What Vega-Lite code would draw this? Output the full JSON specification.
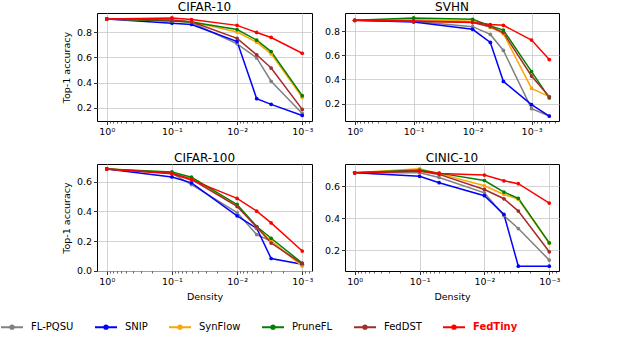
{
  "$schema": "https://vega.github.io/schema/vega-lite/v6.json",
  "padding": {"top": 0, "left": 0, "right": 0, "bottom": 0},
  "background": "white",
  "datasets": {
    "acc": [
      {"dataset": "CIFAR-10", "method": "FL-PQSU", "density": 1, "accuracy": 0.904},
      {"dataset": "CIFAR-10", "method": "FL-PQSU", "density": 0.1, "accuracy": 0.89},
      {"dataset": "CIFAR-10", "method": "FL-PQSU", "density": 0.05, "accuracy": 0.875},
      {"dataset": "CIFAR-10", "method": "FL-PQSU", "density": 0.01, "accuracy": 0.707},
      {"dataset": "CIFAR-10", "method": "FL-PQSU", "density": 0.005, "accuracy": 0.595},
      {"dataset": "CIFAR-10", "method": "FL-PQSU", "density": 0.003, "accuracy": 0.41},
      {"dataset": "CIFAR-10", "method": "FL-PQSU", "density": 0.001, "accuracy": 0.155},
      {"dataset": "CIFAR-10", "method": "SNIP", "density": 1, "accuracy": 0.904},
      {"dataset": "CIFAR-10", "method": "SNIP", "density": 0.1, "accuracy": 0.87},
      {"dataset": "CIFAR-10", "method": "SNIP", "density": 0.05, "accuracy": 0.86},
      {"dataset": "CIFAR-10", "method": "SNIP", "density": 0.01, "accuracy": 0.725},
      {"dataset": "CIFAR-10", "method": "SNIP", "density": 0.005, "accuracy": 0.272},
      {"dataset": "CIFAR-10", "method": "SNIP", "density": 0.003, "accuracy": 0.227},
      {"dataset": "CIFAR-10", "method": "SNIP", "density": 0.001, "accuracy": 0.139},
      {"dataset": "CIFAR-10", "method": "SynFlow", "density": 1, "accuracy": 0.904},
      {"dataset": "CIFAR-10", "method": "SynFlow", "density": 0.1, "accuracy": 0.89},
      {"dataset": "CIFAR-10", "method": "SynFlow", "density": 0.05, "accuracy": 0.882},
      {"dataset": "CIFAR-10", "method": "SynFlow", "density": 0.01, "accuracy": 0.8},
      {"dataset": "CIFAR-10", "method": "SynFlow", "density": 0.005, "accuracy": 0.72},
      {"dataset": "CIFAR-10", "method": "SynFlow", "density": 0.003, "accuracy": 0.627},
      {"dataset": "CIFAR-10", "method": "SynFlow", "density": 0.001, "accuracy": 0.283},
      {"dataset": "CIFAR-10", "method": "PruneFL", "density": 1, "accuracy": 0.904},
      {"dataset": "CIFAR-10", "method": "PruneFL", "density": 0.1, "accuracy": 0.888},
      {"dataset": "CIFAR-10", "method": "PruneFL", "density": 0.05, "accuracy": 0.88},
      {"dataset": "CIFAR-10", "method": "PruneFL", "density": 0.01, "accuracy": 0.82},
      {"dataset": "CIFAR-10", "method": "PruneFL", "density": 0.005, "accuracy": 0.736},
      {"dataset": "CIFAR-10", "method": "PruneFL", "density": 0.003, "accuracy": 0.645},
      {"dataset": "CIFAR-10", "method": "PruneFL", "density": 0.001, "accuracy": 0.296},
      {"dataset": "CIFAR-10", "method": "FedDST", "density": 1, "accuracy": 0.904},
      {"dataset": "CIFAR-10", "method": "FedDST", "density": 0.1, "accuracy": 0.895},
      {"dataset": "CIFAR-10", "method": "FedDST", "density": 0.05, "accuracy": 0.882},
      {"dataset": "CIFAR-10", "method": "FedDST", "density": 0.01, "accuracy": 0.75},
      {"dataset": "CIFAR-10", "method": "FedDST", "density": 0.005, "accuracy": 0.62},
      {"dataset": "CIFAR-10", "method": "FedDST", "density": 0.003, "accuracy": 0.515},
      {"dataset": "CIFAR-10", "method": "FedDST", "density": 0.001, "accuracy": 0.187},
      {"dataset": "CIFAR-10", "method": "FedTiny", "density": 1, "accuracy": 0.904},
      {"dataset": "CIFAR-10", "method": "FedTiny", "density": 0.1, "accuracy": 0.912},
      {"dataset": "CIFAR-10", "method": "FedTiny", "density": 0.05, "accuracy": 0.899},
      {"dataset": "CIFAR-10", "method": "FedTiny", "density": 0.01, "accuracy": 0.853},
      {"dataset": "CIFAR-10", "method": "FedTiny", "density": 0.005, "accuracy": 0.797},
      {"dataset": "CIFAR-10", "method": "FedTiny", "density": 0.003, "accuracy": 0.757},
      {"dataset": "CIFAR-10", "method": "FedTiny", "density": 0.001, "accuracy": 0.632},

      {"dataset": "SVHN", "method": "FL-PQSU", "density": 1, "accuracy": 0.889},
      {"dataset": "SVHN", "method": "FL-PQSU", "density": 0.1, "accuracy": 0.88},
      {"dataset": "SVHN", "method": "FL-PQSU", "density": 0.01, "accuracy": 0.836},
      {"dataset": "SVHN", "method": "FL-PQSU", "density": 0.005, "accuracy": 0.772},
      {"dataset": "SVHN", "method": "FL-PQSU", "density": 0.003, "accuracy": 0.639},
      {"dataset": "SVHN", "method": "FL-PQSU", "density": 0.001, "accuracy": 0.158},
      {"dataset": "SVHN", "method": "FL-PQSU", "density": 0.0005, "accuracy": 0.097},
      {"dataset": "SVHN", "method": "SNIP", "density": 1, "accuracy": 0.889},
      {"dataset": "SVHN", "method": "SNIP", "density": 0.1, "accuracy": 0.875},
      {"dataset": "SVHN", "method": "SNIP", "density": 0.01, "accuracy": 0.814},
      {"dataset": "SVHN", "method": "SNIP", "density": 0.005, "accuracy": 0.706},
      {"dataset": "SVHN", "method": "SNIP", "density": 0.003, "accuracy": 0.383},
      {"dataset": "SVHN", "method": "SNIP", "density": 0.001, "accuracy": 0.192},
      {"dataset": "SVHN", "method": "SNIP", "density": 0.0005, "accuracy": 0.097},
      {"dataset": "SVHN", "method": "SynFlow", "density": 1, "accuracy": 0.889},
      {"dataset": "SVHN", "method": "SynFlow", "density": 0.1, "accuracy": 0.895},
      {"dataset": "SVHN", "method": "SynFlow", "density": 0.01, "accuracy": 0.88},
      {"dataset": "SVHN", "method": "SynFlow", "density": 0.005, "accuracy": 0.83},
      {"dataset": "SVHN", "method": "SynFlow", "density": 0.003, "accuracy": 0.778},
      {"dataset": "SVHN", "method": "SynFlow", "density": 0.001, "accuracy": 0.325},
      {"dataset": "SVHN", "method": "SynFlow", "density": 0.0005, "accuracy": 0.258},
      {"dataset": "SVHN", "method": "PruneFL", "density": 1, "accuracy": 0.889},
      {"dataset": "SVHN", "method": "PruneFL", "density": 0.1, "accuracy": 0.908},
      {"dataset": "SVHN", "method": "PruneFL", "density": 0.01, "accuracy": 0.897},
      {"dataset": "SVHN", "method": "PruneFL", "density": 0.005, "accuracy": 0.842},
      {"dataset": "SVHN", "method": "PruneFL", "density": 0.003, "accuracy": 0.808},
      {"dataset": "SVHN", "method": "PruneFL", "density": 0.001, "accuracy": 0.464},
      {"dataset": "SVHN", "method": "PruneFL", "density": 0.0005, "accuracy": 0.247},
      {"dataset": "SVHN", "method": "FedDST", "density": 1, "accuracy": 0.889},
      {"dataset": "SVHN", "method": "FedDST", "density": 0.1, "accuracy": 0.88},
      {"dataset": "SVHN", "method": "FedDST", "density": 0.01, "accuracy": 0.87},
      {"dataset": "SVHN", "method": "FedDST", "density": 0.005, "accuracy": 0.836},
      {"dataset": "SVHN", "method": "FedDST", "density": 0.003, "accuracy": 0.786},
      {"dataset": "SVHN", "method": "FedDST", "density": 0.001, "accuracy": 0.428},
      {"dataset": "SVHN", "method": "FedDST", "density": 0.0005, "accuracy": 0.256},
      {"dataset": "SVHN", "method": "FedTiny", "density": 1, "accuracy": 0.889},
      {"dataset": "SVHN", "method": "FedTiny", "density": 0.1, "accuracy": 0.883},
      {"dataset": "SVHN", "method": "FedTiny", "density": 0.01, "accuracy": 0.872},
      {"dataset": "SVHN", "method": "FedTiny", "density": 0.005, "accuracy": 0.853},
      {"dataset": "SVHN", "method": "FedTiny", "density": 0.003, "accuracy": 0.847},
      {"dataset": "SVHN", "method": "FedTiny", "density": 0.001, "accuracy": 0.725},
      {"dataset": "SVHN", "method": "FedTiny", "density": 0.0005, "accuracy": 0.564},

      {"dataset": "CIFAR-100", "method": "FL-PQSU", "density": 1, "accuracy": 0.685},
      {"dataset": "CIFAR-100", "method": "FL-PQSU", "density": 0.1, "accuracy": 0.655},
      {"dataset": "CIFAR-100", "method": "FL-PQSU", "density": 0.05, "accuracy": 0.58},
      {"dataset": "CIFAR-100", "method": "FL-PQSU", "density": 0.01, "accuracy": 0.392},
      {"dataset": "CIFAR-100", "method": "FL-PQSU", "density": 0.005, "accuracy": 0.244},
      {"dataset": "CIFAR-100", "method": "FL-PQSU", "density": 0.003, "accuracy": 0.2},
      {"dataset": "CIFAR-100", "method": "FL-PQSU", "density": 0.001, "accuracy": 0.036},
      {"dataset": "CIFAR-100", "method": "SNIP", "density": 1, "accuracy": 0.685},
      {"dataset": "CIFAR-100", "method": "SNIP", "density": 0.1, "accuracy": 0.631},
      {"dataset": "CIFAR-100", "method": "SNIP", "density": 0.05, "accuracy": 0.591},
      {"dataset": "CIFAR-100", "method": "SNIP", "density": 0.01, "accuracy": 0.37},
      {"dataset": "CIFAR-100", "method": "SNIP", "density": 0.005, "accuracy": 0.286},
      {"dataset": "CIFAR-100", "method": "SNIP", "density": 0.003, "accuracy": 0.083},
      {"dataset": "CIFAR-100", "method": "SNIP", "density": 0.001, "accuracy": 0.045},
      {"dataset": "CIFAR-100", "method": "SynFlow", "density": 1, "accuracy": 0.685},
      {"dataset": "CIFAR-100", "method": "SynFlow", "density": 0.1, "accuracy": 0.66},
      {"dataset": "CIFAR-100", "method": "SynFlow", "density": 0.05, "accuracy": 0.62},
      {"dataset": "CIFAR-100", "method": "SynFlow", "density": 0.01, "accuracy": 0.44},
      {"dataset": "CIFAR-100", "method": "SynFlow", "density": 0.005, "accuracy": 0.29},
      {"dataset": "CIFAR-100", "method": "SynFlow", "density": 0.003, "accuracy": 0.2},
      {"dataset": "CIFAR-100", "method": "SynFlow", "density": 0.001, "accuracy": 0.032},
      {"dataset": "CIFAR-100", "method": "PruneFL", "density": 1, "accuracy": 0.685},
      {"dataset": "CIFAR-100", "method": "PruneFL", "density": 0.1, "accuracy": 0.665},
      {"dataset": "CIFAR-100", "method": "PruneFL", "density": 0.05, "accuracy": 0.629},
      {"dataset": "CIFAR-100", "method": "PruneFL", "density": 0.01, "accuracy": 0.446},
      {"dataset": "CIFAR-100", "method": "PruneFL", "density": 0.005, "accuracy": 0.298},
      {"dataset": "CIFAR-100", "method": "PruneFL", "density": 0.003, "accuracy": 0.219},
      {"dataset": "CIFAR-100", "method": "PruneFL", "density": 0.001, "accuracy": 0.052},
      {"dataset": "CIFAR-100", "method": "FedDST", "density": 1, "accuracy": 0.685},
      {"dataset": "CIFAR-100", "method": "FedDST", "density": 0.1, "accuracy": 0.658},
      {"dataset": "CIFAR-100", "method": "FedDST", "density": 0.05, "accuracy": 0.615},
      {"dataset": "CIFAR-100", "method": "FedDST", "density": 0.01, "accuracy": 0.433},
      {"dataset": "CIFAR-100", "method": "FedDST", "density": 0.005, "accuracy": 0.295},
      {"dataset": "CIFAR-100", "method": "FedDST", "density": 0.003, "accuracy": 0.187},
      {"dataset": "CIFAR-100", "method": "FedDST", "density": 0.001, "accuracy": 0.047},
      {"dataset": "CIFAR-100", "method": "FedTiny", "density": 1, "accuracy": 0.685},
      {"dataset": "CIFAR-100", "method": "FedTiny", "density": 0.1, "accuracy": 0.652},
      {"dataset": "CIFAR-100", "method": "FedTiny", "density": 0.05, "accuracy": 0.611},
      {"dataset": "CIFAR-100", "method": "FedTiny", "density": 0.01, "accuracy": 0.487},
      {"dataset": "CIFAR-100", "method": "FedTiny", "density": 0.005, "accuracy": 0.401},
      {"dataset": "CIFAR-100", "method": "FedTiny", "density": 0.003, "accuracy": 0.322},
      {"dataset": "CIFAR-100", "method": "FedTiny", "density": 0.001, "accuracy": 0.133},

      {"dataset": "CINIC-10", "method": "FL-PQSU", "density": 1, "accuracy": 0.685},
      {"dataset": "CINIC-10", "method": "FL-PQSU", "density": 0.1, "accuracy": 0.685},
      {"dataset": "CINIC-10", "method": "FL-PQSU", "density": 0.05, "accuracy": 0.656},
      {"dataset": "CINIC-10", "method": "FL-PQSU", "density": 0.01, "accuracy": 0.56},
      {"dataset": "CINIC-10", "method": "FL-PQSU", "density": 0.005, "accuracy": 0.417},
      {"dataset": "CINIC-10", "method": "FL-PQSU", "density": 0.003, "accuracy": 0.337},
      {"dataset": "CINIC-10", "method": "FL-PQSU", "density": 0.001, "accuracy": 0.14},
      {"dataset": "CINIC-10", "method": "SNIP", "density": 1, "accuracy": 0.685},
      {"dataset": "CINIC-10", "method": "SNIP", "density": 0.1, "accuracy": 0.663},
      {"dataset": "CINIC-10", "method": "SNIP", "density": 0.05, "accuracy": 0.623},
      {"dataset": "CINIC-10", "method": "SNIP", "density": 0.01, "accuracy": 0.542},
      {"dataset": "CINIC-10", "method": "SNIP", "density": 0.005, "accuracy": 0.425},
      {"dataset": "CINIC-10", "method": "SNIP", "density": 0.003, "accuracy": 0.102},
      {"dataset": "CINIC-10", "method": "SNIP", "density": 0.001, "accuracy": 0.102},
      {"dataset": "CINIC-10", "method": "SynFlow", "density": 1, "accuracy": 0.685},
      {"dataset": "CINIC-10", "method": "SynFlow", "density": 0.1, "accuracy": 0.71},
      {"dataset": "CINIC-10", "method": "SynFlow", "density": 0.05, "accuracy": 0.68},
      {"dataset": "CINIC-10", "method": "SynFlow", "density": 0.01, "accuracy": 0.604},
      {"dataset": "CINIC-10", "method": "SynFlow", "density": 0.005, "accuracy": 0.55},
      {"dataset": "CINIC-10", "method": "SynFlow", "density": 0.003, "accuracy": 0.52},
      {"dataset": "CINIC-10", "method": "SynFlow", "density": 0.001, "accuracy": 0.245},
      {"dataset": "CINIC-10", "method": "PruneFL", "density": 1, "accuracy": 0.685},
      {"dataset": "CINIC-10", "method": "PruneFL", "density": 0.1, "accuracy": 0.702},
      {"dataset": "CINIC-10", "method": "PruneFL", "density": 0.05, "accuracy": 0.683},
      {"dataset": "CINIC-10", "method": "PruneFL", "density": 0.01, "accuracy": 0.637},
      {"dataset": "CINIC-10", "method": "PruneFL", "density": 0.005, "accuracy": 0.565},
      {"dataset": "CINIC-10", "method": "PruneFL", "density": 0.003, "accuracy": 0.525},
      {"dataset": "CINIC-10", "method": "PruneFL", "density": 0.001, "accuracy": 0.248},
      {"dataset": "CINIC-10", "method": "FedDST", "density": 1, "accuracy": 0.685},
      {"dataset": "CINIC-10", "method": "FedDST", "density": 0.1, "accuracy": 0.696},
      {"dataset": "CINIC-10", "method": "FedDST", "density": 0.05, "accuracy": 0.675},
      {"dataset": "CINIC-10", "method": "FedDST", "density": 0.01, "accuracy": 0.581},
      {"dataset": "CINIC-10", "method": "FedDST", "density": 0.005, "accuracy": 0.523},
      {"dataset": "CINIC-10", "method": "FedDST", "density": 0.003, "accuracy": 0.446},
      {"dataset": "CINIC-10", "method": "FedDST", "density": 0.001, "accuracy": 0.192},
      {"dataset": "CINIC-10", "method": "FedTiny", "density": 1, "accuracy": 0.685},
      {"dataset": "CINIC-10", "method": "FedTiny", "density": 0.1, "accuracy": 0.696},
      {"dataset": "CINIC-10", "method": "FedTiny", "density": 0.05, "accuracy": 0.681},
      {"dataset": "CINIC-10", "method": "FedTiny", "density": 0.01, "accuracy": 0.671},
      {"dataset": "CINIC-10", "method": "FedTiny", "density": 0.005, "accuracy": 0.635},
      {"dataset": "CINIC-10", "method": "FedTiny", "density": 0.003, "accuracy": 0.617},
      {"dataset": "CINIC-10", "method": "FedTiny", "density": 0.001, "accuracy": 0.496}
    ]
  },
  "bounds": "flush",
  "columns": 2,
  "spacing": {"row": 43, "column": 33},
  "resolve": {"scale": {"x": "independent", "y": "independent"}},
  "concat": [
    {
      "title": "CIFAR-10",
      "width": 215, "height": 108,
      "data": {"name": "acc"},
      "transform": [{"filter": "datum.dataset === 'CIFAR-10'"}],
      "mark": {"type": "line", "strokeWidth": 1.5, "point": {"filled": true, "size": 14}},
      "encoding": {
        "x": {"field": "density", "type": "quantitative",
          "scale": {"type": "log", "domain": [0.000708, 1.413], "reverse": true, "nice": false},
          "axis": {"title": null, "labelOverlap": false, "labelFlush": false,
            "values": [1, 0.9, 0.8, 0.7, 0.6, 0.5, 0.4, 0.3, 0.2, 0.1, 0.09, 0.08, 0.07, 0.06, 0.05, 0.04, 0.03, 0.02, 0.01, 0.009, 0.008, 0.007, 0.006, 0.005, 0.004, 0.003, 0.002, 0.001, 0.0009, 0.0008],
            "labelExpr": "datum.value === 1 ? '10⁰' : datum.value === 0.1 ? '10⁻¹' : datum.value === 0.01 ? '10⁻²' : datum.value === 0.001 ? '10⁻³' : ''",
            "gridOpacity": {"condition": {"test": "datum.value === 1 || datum.value === 0.1 || datum.value === 0.01 || datum.value === 0.001", "value": 1}, "value": 0},
            "tickSize": {"condition": {"test": "datum.value === 1 || datum.value === 0.1 || datum.value === 0.01 || datum.value === 0.001", "value": 3.5}, "value": 2},
            "tickWidth": {"condition": {"test": "datum.value === 1 || datum.value === 0.1 || datum.value === 0.01 || datum.value === 0.001", "value": 0.8}, "value": 0.6}}},
        "y": {"field": "accuracy", "type": "quantitative",
          "scale": {"domain": [0.095, 0.951], "nice": false, "zero": false},
          "axis": {"title": "Top-1 accuracy", "values": [0.2, 0.4, 0.6, 0.8], "format": ".1f"}},
        "color": {"field": "method", "type": "nominal",
          "scale": {"domain": ["FL-PQSU", "SNIP", "SynFlow", "PruneFL", "FedDST", "FedTiny"], "range": ["#808080", "#0000ff", "#ffa500", "#008000", "#a52a2a", "#ff0000"]},
          "legend": {"orient": "none", "legendX": -97, "legendY": 302, "direction": "horizontal", "columns": 6, "title": null,
            "symbolType": "M-1,0H1M-0.15,0A0.15,0.15,0,1,0,0.15,0A0.15,0.15,0,1,0,-0.15,0",
            "symbolSize": 484, "symbolStrokeWidth": 2, "labelFontSize": 10, "labelOffset": 7, "columnPadding": 17, "labelFont": "DejaVu Sans", "labelColor": "black",
            "encode": {"labels": {"update": {"fill": {"signal": "datum.label === 'FedTiny' ? '#ff0000' : '#000000'"}, "fontWeight": {"signal": "datum.label === 'FedTiny' ? 'bold' : 'normal'"}}}}}}
      }
    },
    {
      "title": "SVHN",
      "width": 214, "height": 108,
      "data": {"name": "acc"},
      "transform": [{"filter": "datum.dataset === 'SVHN'"}],
      "mark": {"type": "line", "strokeWidth": 1.5, "point": {"filled": true, "size": 14}},
      "encoding": {
        "x": {"field": "density", "type": "quantitative",
          "scale": {"type": "log", "domain": [0.000342, 1.462], "reverse": true, "nice": false},
          "axis": {"title": null, "labelOverlap": false, "labelFlush": false,
            "values": [1, 0.9, 0.8, 0.7, 0.6, 0.5, 0.4, 0.3, 0.2, 0.1, 0.09, 0.08, 0.07, 0.06, 0.05, 0.04, 0.03, 0.02, 0.01, 0.009, 0.008, 0.007, 0.006, 0.005, 0.004, 0.003, 0.002, 0.001, 0.0009, 0.0008, 0.0007, 0.0006, 0.0005, 0.0004],
            "labelExpr": "datum.value === 1 ? '10⁰' : datum.value === 0.1 ? '10⁻¹' : datum.value === 0.01 ? '10⁻²' : datum.value === 0.001 ? '10⁻³' : ''",
            "gridOpacity": {"condition": {"test": "datum.value === 1 || datum.value === 0.1 || datum.value === 0.01 || datum.value === 0.001", "value": 1}, "value": 0},
            "tickSize": {"condition": {"test": "datum.value === 1 || datum.value === 0.1 || datum.value === 0.01 || datum.value === 0.001", "value": 3.5}, "value": 2},
            "tickWidth": {"condition": {"test": "datum.value === 1 || datum.value === 0.1 || datum.value === 0.01 || datum.value === 0.001", "value": 0.8}, "value": 0.6}}},
        "y": {"field": "accuracy", "type": "quantitative",
          "scale": {"domain": [0.056, 0.949], "nice": false, "zero": false},
          "axis": {"title": null, "values": [0.2, 0.4, 0.6, 0.8], "format": ".1f"}},
        "color": {"field": "method", "type": "nominal",
          "scale": {"domain": ["FL-PQSU", "SNIP", "SynFlow", "PruneFL", "FedDST", "FedTiny"], "range": ["#808080", "#0000ff", "#ffa500", "#008000", "#a52a2a", "#ff0000"]},
          "legend": {"orient": "none", "legendX": -97, "legendY": 302, "direction": "horizontal", "columns": 6, "title": null,
            "symbolType": "M-1,0H1M-0.15,0A0.15,0.15,0,1,0,0.15,0A0.15,0.15,0,1,0,-0.15,0",
            "symbolSize": 484, "symbolStrokeWidth": 2, "labelFontSize": 10, "labelOffset": 7, "columnPadding": 17, "labelFont": "DejaVu Sans", "labelColor": "black",
            "encode": {"labels": {"update": {"fill": {"signal": "datum.label === 'FedTiny' ? '#ff0000' : '#000000'"}, "fontWeight": {"signal": "datum.label === 'FedTiny' ? 'bold' : 'normal'"}}}}}}
      }
    },
    {
      "title": "CIFAR-100",
      "width": 215, "height": 107,
      "data": {"name": "acc"},
      "transform": [{"filter": "datum.dataset === 'CIFAR-100'"}],
      "mark": {"type": "line", "strokeWidth": 1.5, "point": {"filled": true, "size": 14}},
      "encoding": {
        "x": {"field": "density", "type": "quantitative",
          "scale": {"type": "log", "domain": [0.000708, 1.413], "reverse": true, "nice": false},
          "axis": {"title": "Density", "labelOverlap": false, "labelFlush": false,
            "values": [1, 0.9, 0.8, 0.7, 0.6, 0.5, 0.4, 0.3, 0.2, 0.1, 0.09, 0.08, 0.07, 0.06, 0.05, 0.04, 0.03, 0.02, 0.01, 0.009, 0.008, 0.007, 0.006, 0.005, 0.004, 0.003, 0.002, 0.001, 0.0009, 0.0008],
            "labelExpr": "datum.value === 1 ? '10⁰' : datum.value === 0.1 ? '10⁻¹' : datum.value === 0.01 ? '10⁻²' : datum.value === 0.001 ? '10⁻³' : ''",
            "gridOpacity": {"condition": {"test": "datum.value === 1 || datum.value === 0.1 || datum.value === 0.01 || datum.value === 0.001", "value": 1}, "value": 0},
            "tickSize": {"condition": {"test": "datum.value === 1 || datum.value === 0.1 || datum.value === 0.01 || datum.value === 0.001", "value": 3.5}, "value": 2},
            "tickWidth": {"condition": {"test": "datum.value === 1 || datum.value === 0.1 || datum.value === 0.01 || datum.value === 0.001", "value": 0.8}, "value": 0.6}}},
        "y": {"field": "accuracy", "type": "quantitative",
          "scale": {"domain": [-0.001, 0.718], "nice": false, "zero": false},
          "axis": {"title": "Top-1 accuracy", "values": [0, 0.2, 0.4, 0.6], "format": ".1f"}},
        "color": {"field": "method", "type": "nominal",
          "scale": {"domain": ["FL-PQSU", "SNIP", "SynFlow", "PruneFL", "FedDST", "FedTiny"], "range": ["#808080", "#0000ff", "#ffa500", "#008000", "#a52a2a", "#ff0000"]},
          "legend": {"orient": "none", "legendX": -97, "legendY": 302, "direction": "horizontal", "columns": 6, "title": null,
            "symbolType": "M-1,0H1M-0.15,0A0.15,0.15,0,1,0,0.15,0A0.15,0.15,0,1,0,-0.15,0",
            "symbolSize": 484, "symbolStrokeWidth": 2, "labelFontSize": 10, "labelOffset": 7, "columnPadding": 17, "labelFont": "DejaVu Sans", "labelColor": "black",
            "encode": {"labels": {"update": {"fill": {"signal": "datum.label === 'FedTiny' ? '#ff0000' : '#000000'"}, "fontWeight": {"signal": "datum.label === 'FedTiny' ? 'bold' : 'normal'"}}}}}}
      }
    },
    {
      "title": "CINIC-10",
      "width": 214, "height": 107,
      "data": {"name": "acc"},
      "transform": [{"filter": "datum.dataset === 'CINIC-10'"}],
      "mark": {"type": "line", "strokeWidth": 1.5, "point": {"filled": true, "size": 14}},
      "encoding": {
        "x": {"field": "density", "type": "quantitative",
          "scale": {"type": "log", "domain": [0.000708, 1.413], "reverse": true, "nice": false},
          "axis": {"title": "Density", "labelOverlap": false, "labelFlush": false,
            "values": [1, 0.9, 0.8, 0.7, 0.6, 0.5, 0.4, 0.3, 0.2, 0.1, 0.09, 0.08, 0.07, 0.06, 0.05, 0.04, 0.03, 0.02, 0.01, 0.009, 0.008, 0.007, 0.006, 0.005, 0.004, 0.003, 0.002, 0.001, 0.0009, 0.0008],
            "labelExpr": "datum.value === 1 ? '10⁰' : datum.value === 0.1 ? '10⁻¹' : datum.value === 0.01 ? '10⁻²' : datum.value === 0.001 ? '10⁻³' : ''",
            "gridOpacity": {"condition": {"test": "datum.value === 1 || datum.value === 0.1 || datum.value === 0.01 || datum.value === 0.001", "value": 1}, "value": 0},
            "tickSize": {"condition": {"test": "datum.value === 1 || datum.value === 0.1 || datum.value === 0.01 || datum.value === 0.001", "value": 3.5}, "value": 2},
            "tickWidth": {"condition": {"test": "datum.value === 1 || datum.value === 0.1 || datum.value === 0.01 || datum.value === 0.001", "value": 0.8}, "value": 0.6}}},
        "y": {"field": "accuracy", "type": "quantitative",
          "scale": {"domain": [0.072, 0.74], "nice": false, "zero": false},
          "axis": {"title": null, "values": [0.2, 0.4, 0.6], "format": ".1f"}},
        "color": {"field": "method", "type": "nominal",
          "scale": {"domain": ["FL-PQSU", "SNIP", "SynFlow", "PruneFL", "FedDST", "FedTiny"], "range": ["#808080", "#0000ff", "#ffa500", "#008000", "#a52a2a", "#ff0000"]},
          "legend": {"orient": "none", "legendX": -97, "legendY": 302, "direction": "horizontal", "columns": 6, "title": null,
            "symbolType": "M-1,0H1M-0.15,0A0.15,0.15,0,1,0,0.15,0A0.15,0.15,0,1,0,-0.15,0",
            "symbolSize": 484, "symbolStrokeWidth": 2, "labelFontSize": 10, "labelOffset": 7, "columnPadding": 17, "labelFont": "DejaVu Sans", "labelColor": "black",
            "encode": {"labels": {"update": {"fill": {"signal": "datum.label === 'FedTiny' ? '#ff0000' : '#000000'"}, "fontWeight": {"signal": "datum.label === 'FedTiny' ? 'bold' : 'normal'"}}}}}}
      }
    }
  ],
  "config": {
    "font": "DejaVu Sans",
    "view": {"stroke": "black", "strokeWidth": 1},
    "axis": {"grid": true, "gridColor": "#c8c8c8", "gridWidth": 0.8, "domain": false, "tickColor": "black", "tickSize": 3.5, "tickWidth": 0.8,
      "labelFont": "DejaVu Sans", "labelFontSize": 9.5, "labelColor": "black", "labelPadding": 2,
      "titleFont": "DejaVu Sans", "titleFontSize": 9.5, "titleFontWeight": "normal", "titleColor": "black", "titlePadding": 5},
    "title": {"font": "DejaVu Sans", "fontSize": 12, "fontWeight": "normal", "color": "black", "offset": -1}
  }
}
